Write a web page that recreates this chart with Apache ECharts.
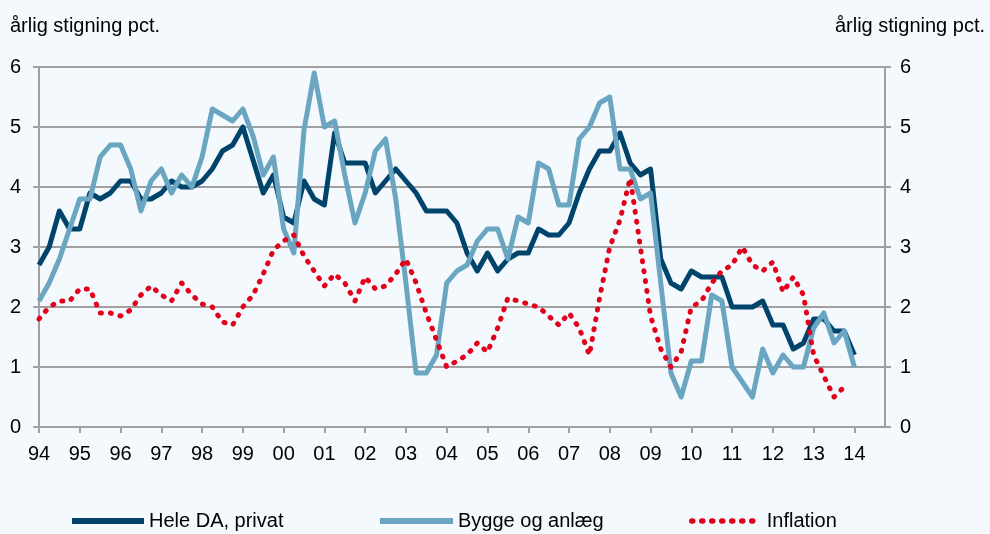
<!DOCTYPE html>
<html>
<head>
<meta charset="utf-8">
<script src="https://cdn.jsdelivr.net/npm/echarts@6/dist/echarts.min.js"></script>
<style>
html,body{margin:0;padding:0;background:#f4f9fd;}
#chart{width:990px;height:534px;}
</style>
</head>
<body>
<div id="chart"></div>
<script>
// Year tick labels (first quarter of each year)
const years = ['94','95','96','97','98','99','00','01','02','03','04','05','06','07','08','09','10','11','12','13','14'];
const quarters = ['K1','K2','K3','K4'];
// Quarterly categories 1994K1 .. 2014K4
const categories = [];
years.forEach(y => quarters.forEach(q => categories.push(y + q)));

const yTicks = [0,1,2,3,4,5,6];

// Hele DA, privat (annual increase, pct.)
const heleDA = [
  2.7,3.0,3.6,3.3, 3.3,3.9,3.8,3.9, 4.1,4.1,3.8,3.8, 3.9,4.1,4.0,4.0,
  4.1,4.3,4.6,4.7, 5.0,4.45,3.9,4.2, 3.5,3.4,4.1,3.8, 3.7,4.9,4.4,4.4,
  4.4,3.9,4.1,4.3, 4.1,3.9,3.6,3.6, 3.6,3.4,2.9,2.6, 2.9,2.6,2.8,2.9,
  2.9,3.3,3.2,3.2, 3.4,3.9,4.3,4.6, 4.6,4.9,4.4,4.2, 4.3,2.8,2.4,2.3,
  2.6,2.5,2.5,2.5, 2.0,2.0,2.0,2.1, 1.7,1.7,1.3,1.4, 1.8,1.8,1.6,1.6,
  1.2
];

// Bygge og anlæg
const byggeAnlaeg = [
  2.1,2.4,2.8,3.3, 3.8,3.8,4.5,4.7, 4.7,4.3,3.6,4.1, 4.3,3.9,4.2,4.0,
  4.5,5.3,5.2,5.1, 5.3,4.85,4.2,4.5, 3.3,2.9,4.95,5.9, 5.0,5.1,4.2,3.4,
  3.9,4.6,4.8,3.8, 2.4,0.9,0.9,1.2, 2.4,2.6,2.7,3.1, 3.3,3.3,2.8,3.5,
  3.4,4.4,4.3,3.7, 3.7,4.8,5.0,5.4, 5.5,4.3,4.3,3.8, 3.9,2.4,0.9,0.5,
  1.1,1.1,2.2,2.1, 1.0,0.75,0.5,1.3, 0.9,1.2,1.0,1.0, 1.65,1.9,1.4,1.6,
  1.0
];

// Inflation
const inflation = [
  1.8,2.0,2.1,2.1, 2.3,2.3,1.9,1.9, 1.85,1.95,2.2,2.35, 2.2,2.1,2.4,2.2,
  2.05,2.0,1.75,1.7, 2.0,2.2,2.55,2.95, 3.1,3.2,2.85,2.6, 2.35,2.55,2.4,2.1,
  2.5,2.3,2.35,2.55, 2.8,2.4,1.9,1.45, 1.0,1.1,1.2,1.4, 1.25,1.65,2.15,2.1,
  2.05,2.0,1.85,1.7, 1.9,1.65,1.2,2.15, 3.0,3.45,4.15,3.0, 1.85,1.3,1.0,1.25,
  2.0,2.1,2.4,2.6, 2.7,3.0,2.7,2.6, 2.75,2.25,2.5,2.2, 1.2,0.85,0.5,0.67,
  null
];

const axisColor = '#a0a0a0';
const font = 'Liberation Sans, Arial, sans-serif';
const fs = 20;

const legendCommon = {
  top: 511, padding: 0, itemHeight: 20,
  itemStyle: {opacity: 0},
  textStyle: {fontSize: fs, color: '#000', fontFamily: font}
};

const chart = echarts.init(document.getElementById('chart'), null, {renderer:'canvas'});
chart.setOption({
  animation: false,
  backgroundColor: '#f4f9fd',
  textStyle: {fontFamily: font},
  title: [
    {text: 'årlig stigning pct.', left: 5, top: 11, textStyle: {fontSize: fs, fontWeight: 'normal', color: '#000', fontFamily: font}},
    {text: 'årlig stigning pct.', right: 0, top: 11, textStyle: {fontSize: fs, fontWeight: 'normal', color: '#000', fontFamily: font}}
  ],
  grid: {left: 39, right: 105, top: 67, bottom: 107, containLabel: false},
  legend: [
    Object.assign({data: ['Hele DA, privat'], left: 69, itemWidth: 72, lineStyle: {width: 6}}, legendCommon),
    Object.assign({data: ['Bygge og anlæg'], left: 377, itemWidth: 73, lineStyle: {width: 6}}, legendCommon),
    Object.assign({data: ['Inflation'], left: 689, itemWidth: 70, lineStyle: {width: 5.5}}, legendCommon)
  ],
  xAxis: {
    type: 'category',
    data: categories,
    boundaryGap: false,
    axisLine: {lineStyle: {color: axisColor, width: 2}},
    axisTick: {show: true, interval: 3, length: 6, lineStyle: {color: axisColor, width: 2}},
    axisLabel: {interval: 3, margin: 17, fontSize: fs, color: '#000', fontFamily: font,
      formatter: v => v.slice(0, 2)},
    splitLine: {show: false}
  },
  yAxis: [
    {
      type: 'value', min: yTicks[0], max: yTicks[yTicks.length-1], interval: 1, position: 'left',
      axisLine: {show: true, lineStyle: {color: axisColor, width: 2}},
      axisTick: {show: true, length: 6, lineStyle: {color: axisColor, width: 2}},
      axisLabel: {margin: 18, fontSize: fs, color: '#000', fontFamily: font},
      splitLine: {show: true, lineStyle: {color: axisColor, width: 2}}
    },
    {
      type: 'value', min: yTicks[0], max: yTicks[yTicks.length-1], interval: 1, position: 'right',
      axisLine: {show: true, lineStyle: {color: axisColor, width: 2}},
      axisTick: {show: true, length: 6, lineStyle: {color: axisColor, width: 2}},
      axisLabel: {margin: 15, fontSize: fs, color: '#000', fontFamily: font},
      splitLine: {show: false}
    }
  ],
  series: [
    {name: 'Hele DA, privat', type: 'line', data: heleDA, symbol: 'none', showSymbol: false,
     color: '#00436b', lineStyle: {color: '#00436b', width: 5, join: 'round'}, z: 3},
    {name: 'Bygge og anlæg', type: 'line', data: byggeAnlaeg, symbol: 'none', showSymbol: false,
     color: '#6aa6c2', lineStyle: {color: '#6aa6c2', width: 5, join: 'round'}, z: 4},
    {name: 'Inflation', type: 'line', data: inflation, symbol: 'none', showSymbol: false,
     color: '#e2001a', lineStyle: {color: '#e2001a', width: 5, type: [1, 9], cap: 'round', join: 'round'}, z: 5}
  ]
});
</script>
</body>
</html>
